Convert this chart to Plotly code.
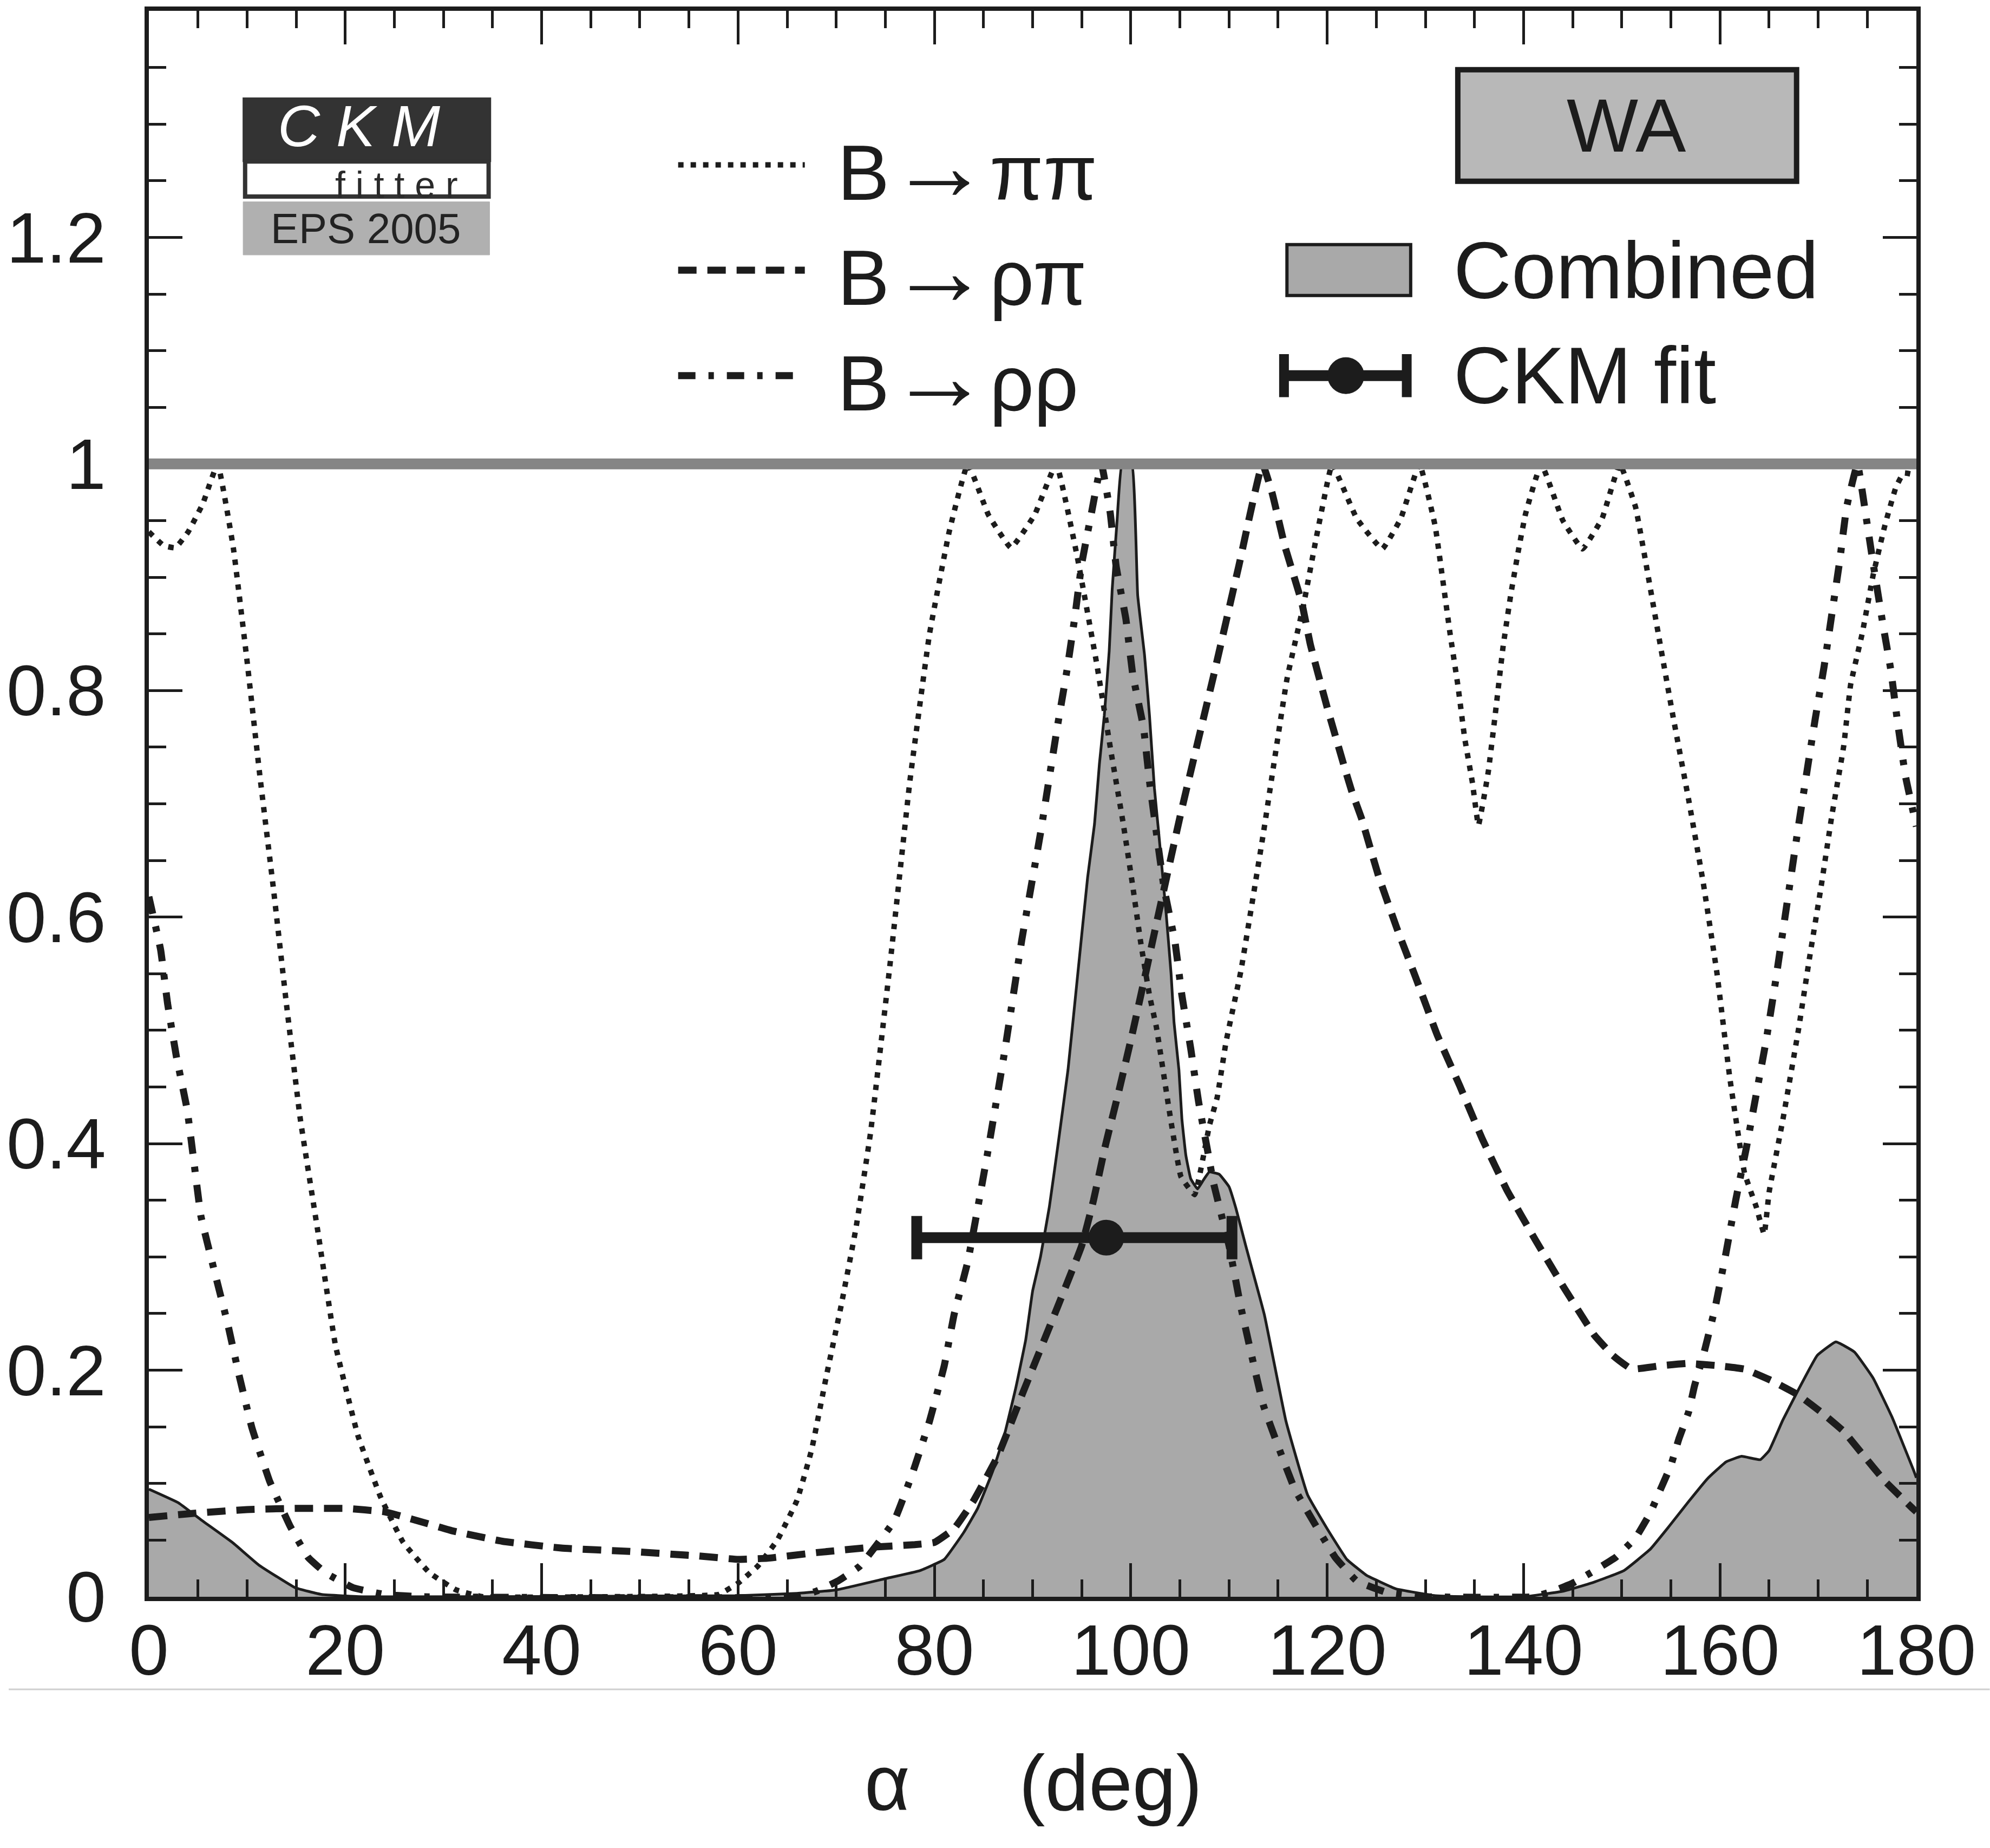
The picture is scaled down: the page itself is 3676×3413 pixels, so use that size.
import plotly.graph_objects as go

# ---------------- data ----------------
alpha_pipi = [0, 1.5, 2.7, 4, 5.5, 7, 8.6, 10, 11.3, 12.7, 14, 15.4, 17.2, 19, 21.3, 23.6, 25.9,
              28.6, 31.3, 34, 46, 58, 60, 62, 64, 66, 67.5, 69, 70.5, 72, 73.5, 75.5, 77.5, 79.5,
              81.5, 83.4, 85.5, 87.8, 90.2, 92.4, 94.5, 96.5, 98, 99.2, 100.2, 101, 101.9, 102.6,
              103.9, 105.1, 106.5, 108, 108.8, 109.7, 111.2, 113.5, 115.9, 117.6, 118.8, 120,
              120.5, 123, 125.6, 127.5, 129.4, 131, 131.7, 132.5, 133.3, 134, 134.8, 135.4, 136.4,
              137.1, 137.9, 138.7, 139.5, 140.2, 141.8, 144, 146, 148, 149.8, 151.4, 152.2, 153.7,
              155.2, 156.8, 158.3, 159.7, 161, 162.5, 163.7, 164.5, 165, 166.4, 168, 169.1, 170.3,
              171.4, 172.6, 173.3, 174.5, 175.6, 176.8, 177.9, 178.7, 180]
cl_pipi = [0.94, 0.928, 0.926, 0.94, 0.965, 1.0, 0.926, 0.826, 0.725, 0.624, 0.524, 0.423, 0.323,
           0.222, 0.142, 0.088, 0.048, 0.021, 0.006, 0.0, 0.0, 0.002, 0.012, 0.027, 0.05, 0.085,
           0.13, 0.195, 0.257, 0.325, 0.41, 0.56, 0.72, 0.85, 0.94, 1.0, 0.955, 0.926, 0.955, 1.0,
           0.92, 0.825, 0.745, 0.684, 0.627, 0.578, 0.531, 0.503, 0.43, 0.371, 0.355, 0.416, 0.441,
           0.49, 0.552, 0.674, 0.81, 0.876, 0.931, 0.983, 1.0, 0.952, 0.925, 0.952, 1.0, 0.945,
           0.902, 0.851, 0.805, 0.758, 0.718, 0.681, 0.728, 0.778, 0.838, 0.885, 0.925, 0.956, 1.0,
           0.95, 0.925, 0.952, 1.0, 0.962, 0.925, 0.851, 0.778, 0.704, 0.63, 0.55, 0.458, 0.374,
           0.344, 0.32, 0.357, 0.421, 0.501, 0.563, 0.627, 0.69, 0.751, 0.805, 0.851, 0.902, 0.946,
           0.979, 0.992, 0.99]

alpha_rhopi = [0, 5, 10, 15, 20, 24, 27, 31, 36, 42, 49, 56, 60, 63, 68, 74, 78, 80, 82, 84, 86.5,
               89, 92.5, 95, 96.2, 97.4, 98.8, 100.1, 101.4, 102.5, 105.1, 108.4, 111, 113.4, 114.4,
               115.7, 117.4, 118.3, 120, 121.7, 122.5, 123.5, 125.2, 127.1, 129, 131.2, 133.5,
               135.8, 138.3, 141.2, 144.1, 147.2, 149.1, 151, 154, 156.8, 159.8, 162.5, 165.2, 168,
               170.3, 172.6, 174.5, 176.8, 179.5, 180]
cl_rhopi = [0.07, 0.074, 0.077, 0.078, 0.078, 0.075, 0.068, 0.058, 0.049, 0.043, 0.04, 0.036,
            0.033, 0.034, 0.039, 0.044, 0.046, 0.048, 0.06, 0.085, 0.125, 0.18, 0.255, 0.31, 0.35,
            0.398, 0.447, 0.495, 0.546, 0.59, 0.692, 0.812, 0.91, 1.0, 0.974, 0.927, 0.878, 0.84,
            0.785, 0.734, 0.711, 0.687, 0.637, 0.59, 0.547, 0.496, 0.451, 0.404, 0.359, 0.315,
            0.273, 0.231, 0.213, 0.201, 0.204, 0.206, 0.204, 0.201, 0.191, 0.178, 0.163, 0.146,
            0.126, 0.102, 0.079, 0.075]

alpha_rhorho = [0, 1.2, 1.9, 2.8, 3.9, 4.6, 5.3, 6.6, 8, 9.2, 10.5, 12.3, 14.4, 16.2, 18, 20.8, 24,
                28, 66, 68, 70.2, 72.4, 75.9, 77.8, 79.5, 81, 82, 83.4, 85.4, 87.2, 88.9, 90.8,
                92.5, 93.5, 94.3, 95, 96, 97, 97.9, 98.5, 99.5, 100.2, 101.3, 101.9, 103.4, 104.5,
                105.2, 106.1, 106.9, 107.9, 108.4, 110, 111.2, 113.5, 116.7, 120.8, 123, 126, 130,
                141, 143, 145, 147, 149.4, 151.4, 152.9, 153.9, 155, 155.8, 156.8, 157.4, 158.3,
                159.5, 160.6, 161.6, 162.7, 163.7, 164.7, 165.6, 166.4, 167.2, 168, 169.7, 170.6,
                171.4, 172.2, 172.9, 174, 174.9, 175.6, 176.6, 177.4, 178.1, 178.9, 180]
cl_rhorho = [0.618, 0.571, 0.524, 0.477, 0.43, 0.383, 0.336, 0.29, 0.242, 0.195, 0.149, 0.102,
             0.062, 0.035, 0.021, 0.008, 0.002, 0.0, 0.0, 0.005, 0.014, 0.027, 0.067, 0.11, 0.155,
             0.204, 0.249, 0.296, 0.391, 0.484, 0.58, 0.674, 0.767, 0.818, 0.865, 0.912, 0.957,
             1.0, 0.957, 0.91, 0.863, 0.814, 0.767, 0.72, 0.625, 0.578, 0.531, 0.484, 0.437, 0.39,
             0.366, 0.31, 0.256, 0.169, 0.095, 0.035, 0.014, 0.004, 0.0, 0.0, 0.005, 0.012, 0.022,
             0.035, 0.052, 0.074, 0.094, 0.116, 0.139, 0.163, 0.186, 0.213, 0.255, 0.303, 0.35,
             0.397, 0.444, 0.491, 0.54, 0.587, 0.634, 0.681, 0.775, 0.821, 0.868, 0.915, 0.962,
             1.0, 0.952, 0.912, 0.858, 0.818, 0.771, 0.724, 0.68]

alpha_comb = [0, 3, 5.3, 8.5, 11.2, 14.9, 17.6, 22, 60, 66, 70, 75, 78.5, 81, 83, 84.4, 85.9, 87.1,
              88.3, 89.3, 90, 90.8, 91.7, 92.6, 93.6, 94.6, 95.6, 96.3, 96.8, 97.3, 97.8, 98.1,
              98.6, 99.1, 100.1, 100.7, 101.4, 101.9, 102.4, 102.8, 103.6, 104.1, 104.4, 104.9,
              105.2, 105.6, 106.1, 106.8, 107.4, 108, 109, 110, 110.7, 111.7, 113.6, 115.8, 118,
              120, 122, 124, 127, 131, 135, 140, 144.1, 147.2, 150.2, 152.9, 154.8, 156.8, 158.7,
              160.6, 162.2, 164.1, 165, 166.4, 168, 169.9, 171.8, 173.7, 175.6, 177.5, 179.7, 180]
cl_comb = [0.095, 0.083, 0.068, 0.048, 0.028, 0.008, 0.002, 0.0, 0.001, 0.003, 0.006, 0.016, 0.023,
           0.033, 0.057, 0.078, 0.11, 0.142, 0.185, 0.227, 0.27, 0.3, 0.344, 0.4, 0.465, 0.55,
           0.635, 0.682, 0.735, 0.778, 0.835, 0.889, 0.95, 1.0, 1.0, 0.884, 0.831, 0.778, 0.714,
           0.678, 0.603, 0.55, 0.507, 0.465, 0.422, 0.39, 0.369, 0.36, 0.368, 0.375, 0.373, 0.362,
           0.343, 0.31, 0.249, 0.155, 0.09, 0.06, 0.033, 0.019, 0.007, 0.001, 0.0, 0.0, 0.005,
           0.013, 0.023, 0.042, 0.062, 0.084, 0.104, 0.119, 0.124, 0.121, 0.129, 0.156, 0.183,
           0.213, 0.225, 0.216, 0.193, 0.159, 0.112, 0.105]

ckm_fit_center = 97.5
ckm_fit_low = 78.2
ckm_fit_high = 110.3
ckm_fit_level = 0.317

x_tickvals = [0, 20, 40, 60, 80, 100, 120, 140, 160, 180]
x_ticktext = ["0", "20", "40", "60", "80", "100", "120", "140", "160", "180"]
y_tickvals = [0, 0.2, 0.4, 0.6, 0.8, 1.0, 1.2]
y_ticktext = ["0", "0.2", "0.4", "0.6", "0.8", "1", "1.2"]

legend_final_states = ["\u03c0\u03c0", "\u03c1\u03c0", "\u03c1\u03c1"]

# ---------------- style ----------------
FONT = "Liberation Sans, Arial, Helvetica, sans-serif"
INK = "#1c1c1c"
FILL = "#a9a9a9"
DOT_PIPI = "10px,13px"
DASH_RHOPI = "34px,20px"
DASHDOT_RHORHO = "32px,24px,10px,24px"

fig = go.Figure()

fig.add_trace(go.Scatter(
    x=alpha_comb, y=cl_comb, mode="lines", fill="tozeroy", fillcolor=FILL,
    line=dict(color=INK, width=5, shape="spline", smoothing=0.3), showlegend=False))

fig.add_trace(go.Scatter(
    x=alpha_pipi, y=cl_pipi, mode="lines",
    line=dict(color=INK, width=10, dash=DOT_PIPI, shape="spline", smoothing=0.3),
    showlegend=False))

fig.add_trace(go.Scatter(
    x=alpha_rhopi, y=cl_rhopi, mode="lines",
    line=dict(color=INK, width=13, dash=DASH_RHOPI, shape="spline", smoothing=0.3),
    showlegend=False))

fig.add_trace(go.Scatter(
    x=alpha_rhorho, y=cl_rhorho, mode="lines",
    line=dict(color=INK, width=13, dash=DASHDOT_RHORHO, shape="spline", smoothing=0.3),
    showlegend=False))

fig.add_trace(go.Scatter(
    x=[ckm_fit_center], y=[ckm_fit_level], mode="markers",
    marker=dict(color=INK, size=66, line=dict(width=0)),
    error_x=dict(type="data", symmetric=False,
                 array=[ckm_fit_high - ckm_fit_center],
                 arrayminus=[ckm_fit_center - ckm_fit_low],
                 color=INK, thickness=20, width=40),
    showlegend=False))

shapes = []
annotations = []

# horizontal line at CL = 1
shapes.append(dict(type="line", xref="x", yref="y", x0=0, x1=180, y0=1, y1=1,
                   line=dict(color="#858585", width=20), layer="above"))

# ---- legend (drawn in data coordinates of the fixed axes) ----
leg_x0, leg_x1 = 53.9, 66.8
leg_rows = [1.264, 1.171, 1.078]
leg_dashes = [(DOT_PIPI, 10), (DASH_RHOPI, 13), (DASHDOT_RHORHO, 13)]
for (dash, w), yv, fs in zip(leg_dashes, leg_rows, legend_final_states):
    shapes.append(dict(type="line", xref="x", yref="y", x0=leg_x0, x1=leg_x1, y0=yv, y1=yv,
                       line=dict(color=INK, width=w, dash=dash)))
    lab = "B<span style='font-size:185px'>\u2192</span>" + fs
    annotations.append(dict(xref="x", yref="y", x=70.0, y=yv, text=lab, showarrow=False,
                            xanchor="left", yanchor="middle",
                            font=dict(family=FONT, size=144, color=INK)))

# WA box
shapes.append(dict(type="rect", xref="x", yref="y", x0=133.3, x1=167.8, y0=1.2495, y1=1.348,
                   fillcolor="#b8b8b8", line=dict(color=INK, width=10)))
annotations.append(dict(xref="x", yref="y", x=150.5, y=1.299, text="WA", showarrow=False,
                        xanchor="center", yanchor="middle",
                        font=dict(family=FONT, size=140, color=INK)))

# Combined legend box
shapes.append(dict(type="rect", xref="x", yref="y", x0=115.9, x1=128.5, y0=1.1487, y1=1.1936,
                   fillcolor=FILL, line=dict(color=INK, width=6)))
annotations.append(dict(xref="x", yref="y", x=132.75, y=1.171, text="Combined", showarrow=False,
                        xanchor="left", yanchor="middle",
                        font=dict(family=FONT, size=148, color=INK)))

# CKM fit legend glyph
shapes.append(dict(type="line", xref="x", yref="y", x0=115.3, x1=128.4, y0=1.078, y1=1.078,
                   line=dict(color=INK, width=20)))
for xc in (115.6, 128.1):
    shapes.append(dict(type="line", xref="x", yref="y", x0=xc, x1=xc, y0=1.059, y1=1.097,
                       line=dict(color=INK, width=18)))
shapes.append(dict(type="circle", xref="x", yref="y", x0=120.05, x1=123.75, y0=1.062, y1=1.094,
                   fillcolor=INK, line=dict(color=INK, width=1)))
annotations.append(dict(xref="x", yref="y", x=132.75, y=1.078, text="CKM fit", showarrow=False,
                        xanchor="left", yanchor="middle",
                        font=dict(family=FONT, size=148, color=INK)))

# CKMfitter logo
shapes.append(dict(type="rect", xref="x", yref="y", x0=9.6, x1=34.8, y0=1.267, y1=1.323,
                   fillcolor="#333333", line=dict(color="#333333", width=2)))
shapes.append(dict(type="rect", xref="x", yref="y", x0=9.8, x1=34.6, y0=1.236, y1=1.267,
                   fillcolor="white", line=dict(color="#333333", width=8)))
shapes.append(dict(type="rect", xref="x", yref="y", x0=9.6, x1=34.7, y0=1.1845, y1=1.2314,
                   fillcolor="#b0b0b0", line=dict(color="#b0b0b0", width=1)))
annotations.append(dict(xref="x", yref="y", x=21.4, y=1.2985, text="<i>C K M</i>",
                        showarrow=False, xanchor="center", yanchor="middle",
                        font=dict(family=FONT, size=108, color="white")))
annotations.append(dict(xref="x", yref="y", x=25.2, y=1.2468, text="f i t t e r",
                        showarrow=False, xanchor="center", yanchor="middle",
                        font=dict(family=FONT, size=68, color="#2a2a2a")))
annotations.append(dict(xref="x", yref="y", x=22.1, y=1.208, text="EPS 2005", showarrow=False,
                        xanchor="center", yanchor="middle",
                        font=dict(family=FONT, size=78, color="#222222")))

# axis title
annotations.append(dict(xref="paper", yref="paper", x=0.5006, y=-0.1174,
                        text="\u03b1     (deg)", showarrow=False,
                        xanchor="center", yanchor="middle",
                        font=dict(family=FONT, size=145, color=INK)))

# faint scan line below the tick labels
shapes.append(dict(type="line", xref="paper", yref="paper", x0=-0.0793, x1=1.0415,
                   y0=-0.0584, y1=-0.0584, line=dict(color="#cfcfcf", width=3)))

fig.update_layout(
    width=3676, height=3413,
    margin=dict(l=260, r=136, t=20, b=464),
    paper_bgcolor="white", plot_bgcolor="white",
    shapes=shapes, annotations=annotations,
    showlegend=False,
    font=dict(family=FONT, color=INK),
)

axis_common = dict(
    showgrid=False, zeroline=False,
    showline=True, linecolor=INK, linewidth=8, mirror="ticks",
    ticks="inside", ticklen=62, tickwidth=5, tickcolor=INK,
    tickfont=dict(family=FONT, size=132, color=INK),
)

fig.update_xaxes(range=[0, 180], tickvals=x_tickvals, ticktext=x_ticktext,
                 ticklabelstandoff=-22,
                 minor=dict(ticks="inside", ticklen=32, tickwidth=5, tickcolor=INK, dtick=5,
                            tick0=0, showgrid=False),
                 **axis_common)
fig.update_yaxes(range=[0, 1.4], tickvals=y_tickvals, ticktext=y_ticktext,
                 ticklabelstandoff=45,
                 minor=dict(ticks="inside", ticklen=32, tickwidth=5, tickcolor=INK, dtick=0.05,
                            tick0=0, showgrid=False),
                 **axis_common)

fig.write_html("out.html")
